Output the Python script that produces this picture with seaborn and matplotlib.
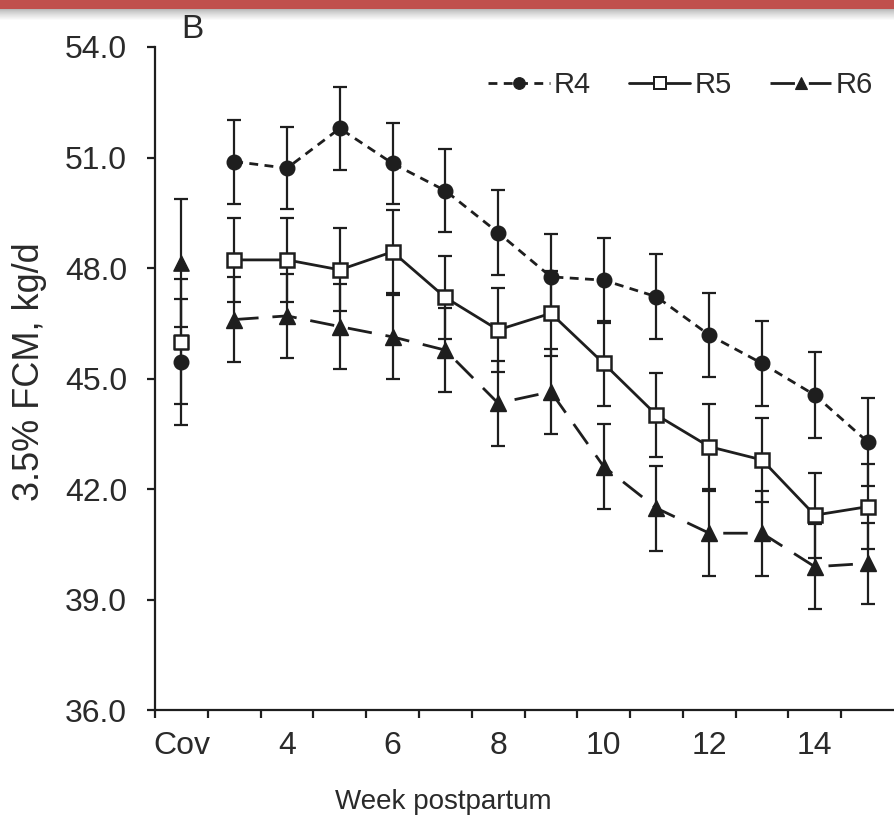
import numpy as np
import pandas as pd
import matplotlib
matplotlib.use("Agg")
import matplotlib.pyplot as plt
import seaborn as sns
from matplotlib import font_manager
from matplotlib.lines import Line2D
from matplotlib.patches import Rectangle

# ---------------- data ----------------
categories = ["Cov", "3", "4", "5", "6", "7", "8", "9", "10", "11", "12", "13", "14", "15"]
week_labels = ["3", "4", "5", "6", "7", "8", "9", "10", "11", "12", "13", "14", "15"]
tick_labels = ["Cov", "4", "6", "8", "10", "12", "14"]
series_names = ["R4", "R5", "R6"]

cov_values = [45.45, 46.00, 48.14]
cov_se = [1.72, 1.70, 1.74]

r4_values = [50.89, 50.71, 51.79, 50.84, 50.10, 48.96, 47.76, 47.67, 47.22, 46.18, 45.41, 44.55, 43.28]
r5_values = [48.22, 48.22, 47.95, 48.44, 47.20, 46.32, 46.77, 45.41, 44.01, 43.15, 42.79, 41.29, 41.52]
r6_values = [46.60, 46.70, 46.41, 46.13, 45.77, 44.33, 44.64, 42.61, 41.48, 40.80, 40.80, 39.89, 39.98]

r4_se = [1.14, 1.12, 1.13, 1.10, 1.13, 1.15, 1.15, 1.15, 1.15, 1.15, 1.15, 1.17, 1.20]
r5_se = [1.13, 1.13, 1.13, 1.13, 1.13, 1.15, 1.15, 1.15, 1.15, 1.15, 1.15, 1.15, 1.15]
r6_se = [1.15, 1.15, 1.15, 1.15, 1.15, 1.15, 1.15, 1.15, 1.15, 1.15, 1.15, 1.15, 1.10]

y_ticks = [36.0, 39.0, 42.0, 45.0, 48.0, 51.0, 54.0]

# ---------------- style ----------------
sns.set_theme(style="ticks")
plt.rcParams["font.family"] = ["Liberation Sans", "DejaVu Sans"]

installed = {f.name for f in font_manager.fontManager.ttflist}
HAS_NARROW = "Liberation Sans Narrow" in installed
if HAS_NARROW:
    NARROW = ["Liberation Sans Narrow", "Liberation Sans", "DejaVu Sans"]
    FS_TICK, FS_XLAB, FS_LEG, FS_B = 25, 24, 23, 25
else:
    NARROW = ["Liberation Sans", "DejaVu Sans"]
    FS_TICK, FS_XLAB, FS_LEG, FS_B = 23, 20, 21, 24
REG = ["Liberation Sans", "DejaVu Sans"]

INK = "#1e1e1e"
TXT = "#2a2a2a"

W, H = 894, 818
fig = plt.figure(figsize=(W / 100, H / 100), dpi=100)
fig.patch.set_facecolor("white")

# header bar (red band with soft gray shadow)
fig.add_artist(Rectangle((0, 1 - 9 / H), 1, 9 / H, transform=fig.transFigure,
                         facecolor="#c0504d", edgecolor="none", zorder=0))
for i in range(12):
    g = 0.72 + 0.28 * (i / 11) ** 0.8
    fig.add_artist(Rectangle((0, 1 - (10 + i) / H), 1, 1 / H, transform=fig.transFigure,
                             facecolor=(g, g, g), edgecolor="none", zorder=0))

left, right, top, bottom = 155, 894, 47, 710
ax = fig.add_axes([left / W, 1 - bottom / H, (right - left) / W, (bottom - top) / H])
ax.set_facecolor("white")

xpos = {c: i for i, c in enumerate(categories)}
week_x = [xpos[w] for w in week_labels]

styles = {
    "R4": dict(ls=(0, (3.2, 2.3)), marker="o", mfc=INK, ms=10.5, mew=1.0),
    "R5": dict(ls="-", marker="s", mfc="white", ms=10.0, mew=1.8),
    "R6": dict(ls=(0, (8.8, 5.0)), marker="^", mfc=INK, ms=11.0, mew=1.0),
}
values = {"R4": r4_values, "R5": r5_values, "R6": r6_values}
ses = {"R4": r4_se, "R5": r5_se, "R6": r6_se}

for k, name in enumerate(series_names):
    st = styles[name]
    df = pd.DataFrame({"x": week_x, "y": values[name]})
    ax.errorbar(df["x"], df["y"], yerr=ses[name], fmt="none", ecolor=INK,
                elinewidth=1.6, capsize=5, capthick=1.6, zorder=2)
    sns.lineplot(data=df, x="x", y="y", ax=ax, color=INK, linewidth=2.0,
                 linestyle=st["ls"], marker=st["marker"], markersize=st["ms"],
                 markerfacecolor=st["mfc"], markeredgecolor=INK,
                 markeredgewidth=st["mew"], zorder=3, legend=False)
    ax.errorbar([xpos["Cov"]], [cov_values[k]], yerr=[cov_se[k]], fmt="none",
                ecolor=INK, elinewidth=1.6, capsize=5, capthick=1.6, zorder=2)
    sns.scatterplot(x=[xpos["Cov"]], y=[cov_values[k]], ax=ax, marker=st["marker"],
                    s=st["ms"] ** 2, color=st["mfc"], edgecolor=INK,
                    linewidth=st["mew"], zorder=4, legend=False)

# axes
ax.set_xlim(-0.5, len(categories) - 0.5)
ax.set_ylim(y_ticks[0], y_ticks[-1])
ax.set_yticks(y_ticks)
ax.set_yticklabels([f"{v:.1f}" for v in y_ticks])
ax.set_xticks([xpos[t] for t in tick_labels])
ax.set_xticklabels(tick_labels)
ax.set_xticks(np.arange(-0.5, len(categories) - 1, 1.0), minor=True)

for s in ["top", "right"]:
    ax.spines[s].set_visible(False)
for s in ["left", "bottom"]:
    ax.spines[s].set_linewidth(1.6)
    ax.spines[s].set_color(INK)

ax.tick_params(axis="x", which="major", length=0, pad=15, labelsize=FS_TICK, labelcolor=TXT)
ax.tick_params(axis="x", which="minor", length=6, width=1.6, direction="out", color=INK)
ax.tick_params(axis="y", which="major", length=6, width=1.6, direction="out", color=INK,
               pad=14, labelsize=FS_TICK, labelcolor=TXT)
for lab in ax.get_xticklabels() + ax.get_yticklabels():
    lab.set_family(NARROW)

ax.set_xlabel("Week postpartum", fontsize=FS_XLAB, color=TXT, family=NARROW)
ax.set_ylabel("3.5% FCM, kg/d", fontsize=26, color=TXT, family=REG)
ax.xaxis.set_label_coords((443 - left) / (right - left), (bottom - 789) / (bottom - top))
ax.yaxis.set_label_coords((47 - left) / (right - left), (bottom - 372) / (bottom - top))

# panel letter
fig.text(181 / W, 1 - 30 / H, "B", fontsize=FS_B, color=TXT, ha="left", va="center",
         family=NARROW)

# legend
handles = []
for name in series_names:
    st = styles[name]
    handles.append(Line2D([0], [0], color=INK, linewidth=2.0, linestyle=st["ls"],
                          marker=st["marker"], markersize=st["ms"] * 0.8,
                          markerfacecolor=st["mfc"], markeredgecolor=INK,
                          markeredgewidth=st["mew"] * 0.8))
leg = ax.legend(handles, series_names, ncol=3, loc="upper right",
                bbox_to_anchor=(0.995, 0.99), frameon=False,
                prop={"family": NARROW, "size": FS_LEG},
                handlelength=2.1, handletextpad=0.15, columnspacing=1.3,
                borderaxespad=0.2)
for t in leg.get_texts():
    t.set_color(TXT)

fig.savefig("out.png", dpi=100, facecolor="white")
